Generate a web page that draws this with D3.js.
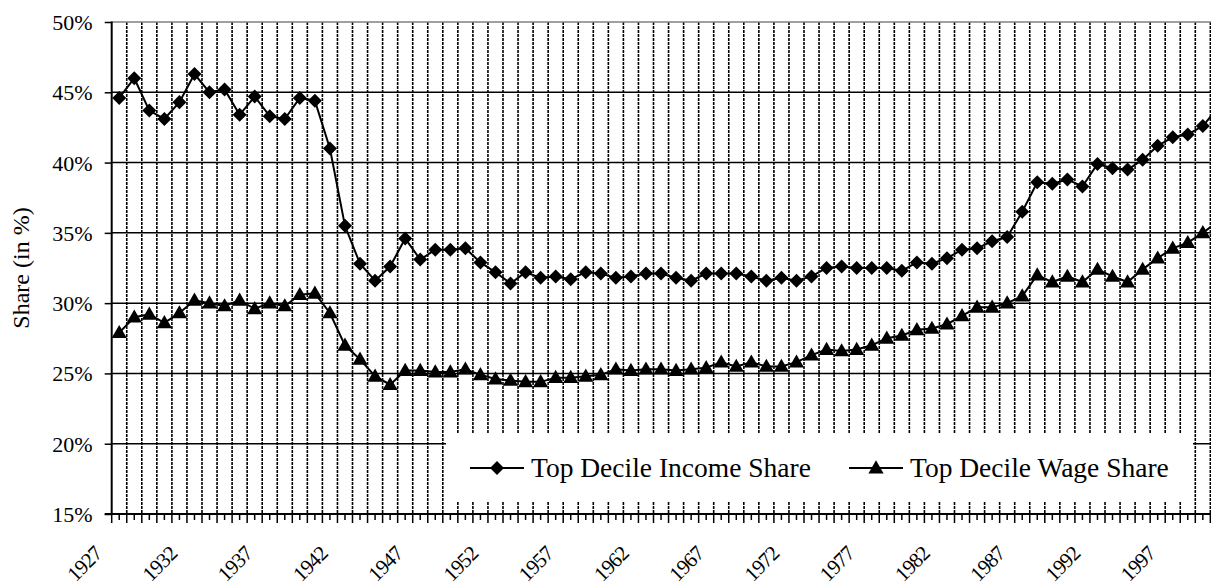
<!DOCTYPE html>
<html>
<head>
<meta charset="utf-8">
<script src="https://d3js.org/d3.v7.min.js"></script>
<style>
    html, body { margin: 0; padding: 0; background: #fff; }
    svg text { font-family: "Liberation Serif", "Times New Roman", serif; fill: #000; }
</style>
</head>
<body>
<svg id="chart" width="1211" height="586"></svg>
<script>
// years shown on the category axis (the last one is partly cut by the frame)
var years = d3.range(1927, 2001);

var incomeShare = [
    44.6, 46.0, 43.7, 43.1, 44.3, 46.3, 45.0, 45.2, 43.4, 44.7,
    43.3, 43.1, 44.6, 44.4, 41.0, 35.5, 32.8, 31.6, 32.6, 34.6,
    33.1, 33.8, 33.8, 33.9, 32.9, 32.2, 31.4, 32.2, 31.8, 31.9,
    31.7, 32.2, 32.1, 31.8, 31.9, 32.1, 32.1, 31.8, 31.6, 32.1,
    32.1, 32.1, 31.9, 31.6, 31.8, 31.6, 31.9, 32.5, 32.6, 32.5,
    32.5, 32.5, 32.3, 32.9, 32.8, 33.2, 33.8, 33.9, 34.4, 34.7,
    36.5, 38.6, 38.5, 38.8, 38.3, 39.9, 39.6, 39.5, 40.2, 41.2,
    41.8, 42.0, 42.6, 43.9
];

var wageShare = [
    27.9, 29.0, 29.2, 28.6, 29.3, 30.2, 30.0, 29.8, 30.2, 29.6,
    30.0, 29.8, 30.6, 30.7, 29.3, 27.0, 26.0, 24.8, 24.2, 25.2,
    25.2, 25.1, 25.1, 25.3, 24.9, 24.6, 24.5, 24.4, 24.4, 24.7,
    24.7, 24.8, 24.9, 25.3, 25.2, 25.3, 25.3, 25.2, 25.3, 25.4,
    25.8, 25.5, 25.8, 25.5, 25.5, 25.8, 26.3, 26.7, 26.6, 26.7,
    27.0, 27.5, 27.7, 28.1, 28.2, 28.5, 29.1, 29.7, 29.7, 30.0,
    30.5, 32.0, 31.5, 31.9, 31.5, 32.4, 31.9, 31.5, 32.4, 33.2,
    33.9, 34.3, 35.0, 35.8
];

var yTicks = [15, 20, 25, 30, 35, 40, 45, 50];
var xLabels = [1927, 1932, 1937, 1942, 1947, 1952, 1957, 1962, 1967, 1972, 1977, 1982, 1987, 1992, 1997];

var legendItems = [
    {name: 'Top Decile Income Share', marker: 'diamond'},
    {name: 'Top Decile Wage Share', marker: 'triangle'}
];

var
svg = d3.select('#chart'),
serif = '"Liberation Serif", "Times New Roman", serif',
plotLeft = 111.7,
plotTop = 22,
plotBottom = 514,
step = 15.05,
x = d3.scaleBand().domain(years).range([plotLeft, plotLeft + years.length * step]).padding(0),
y = d3.scaleLinear().domain([15, 50]).range([plotBottom, plotTop]),
cx = function (yr) { return x(yr) + x.bandwidth() / 2; },
diamond = d3.symbol().type(d3.symbolDiamond2).size(125),
triangle = d3.symbol().type(d3.symbolTriangle).size(100);

// vertical dotted gridlines at category boundaries
svg.append('g').selectAll('line')
    .data(years.slice(1))
    .enter().append('line')
    .attr('x1', function (d) { return x(d); })
    .attr('x2', function (d) { return x(d); })
    .attr('y1', plotTop)
    .attr('y2', plotBottom)
    .attr('stroke', '#000')
    .attr('stroke-width', 1.6)
    .attr('stroke-dasharray', '3,1');

// horizontal gridlines
svg.append('g').selectAll('line')
    .data(yTicks.slice(1))
    .enter().append('line')
    .attr('x1', plotLeft)
    .attr('x2', 1211)
    .attr('y1', function (d) { return y(d); })
    .attr('y2', function (d) { return y(d); })
    .attr('stroke', function (d) { return d === 50 ? '#808080' : '#000'; })
    .attr('stroke-width', function (d) { return d === 50 ? 1.6 : 1.5; });

// y axis
var yAxis = svg.append('g')
    .attr('transform', 'translate(' + plotLeft + ',0)')
    .call(d3.axisLeft(y).tickValues(yTicks).tickSize(7).tickPadding(12)
        .tickFormat(function (d) { return d + '%'; }));
yAxis.select('.domain').remove();
yAxis.selectAll('.tick line').attr('stroke', '#000').attr('stroke-width', 1.5);
yAxis.selectAll('text')
    .style('font-family', serif)
    .style('font-size', '22px')
    .attr('dy', '0.34em');
svg.append('line')
    .attr('x1', plotLeft).attr('x2', plotLeft)
    .attr('y1', plotTop - 0.5).attr('y2', plotBottom + 1)
    .attr('stroke', '#000').attr('stroke-width', 2);

// x axis line and ticks
svg.append('line')
    .attr('x1', plotLeft - 7).attr('x2', 1211)
    .attr('y1', plotBottom).attr('y2', plotBottom)
    .attr('stroke', '#000').attr('stroke-width', 2);

svg.append('g').selectAll('line')
    .data(years)
    .enter().append('line')
    .attr('x1', function (d) { return x(d); })
    .attr('x2', function (d) { return x(d); })
    .attr('y1', plotBottom)
    .attr('y2', plotBottom + 9)
    .attr('stroke', '#000').attr('stroke-width', 1.5);

svg.append('g').selectAll('line')
    .data(years)
    .enter().append('line')
    .attr('x1', cx)
    .attr('x2', cx)
    .attr('y1', plotBottom)
    .attr('y2', plotBottom + 6)
    .attr('stroke', '#000').attr('stroke-width', 1.5);

svg.append('g').selectAll('text')
    .data(xLabels)
    .enter().append('text')
    .attr('transform', function (d) { return 'translate(' + (cx(d) - 16) + ',' + 555 + ') rotate(-45)'; })
    .attr('text-anchor', 'end')
    .style('font-family', serif)
    .style('font-size', '21px')
    .attr('letter-spacing', -0.8)
    .text(function (d) { return d; });

// y axis title
svg.append('text')
    .attr('transform', 'translate(29,268) rotate(-90)')
    .attr('text-anchor', 'middle')
    .style('font-family', serif)
    .style('font-size', '24px')
    .text('Share (in %)');

// series
var line = d3.line()
    .x(function (d, i) { return cx(years[i]); })
    .y(function (d) { return y(d); });

svg.append('path')
    .datum(incomeShare)
    .attr('d', line)
    .attr('fill', 'none')
    .attr('stroke', '#000')
    .attr('stroke-width', 2);

svg.append('path')
    .datum(wageShare)
    .attr('d', line)
    .attr('fill', 'none')
    .attr('stroke', '#000')
    .attr('stroke-width', 2);

svg.append('g').selectAll('path')
    .data(incomeShare)
    .enter().append('path')
    .attr('d', diamond)
    .attr('transform', function (d, i) { return 'translate(' + cx(years[i]) + ',' + y(d) + ')'; })
    .attr('fill', '#000');

svg.append('g').selectAll('path')
    .data(wageShare)
    .enter().append('path')
    .attr('d', triangle)
    .attr('transform', function (d, i) { return 'translate(' + cx(years[i]) + ',' + (y(d) + 1) + ')'; })
    .attr('fill', '#000');

// legend
var lg = svg.append('g');
lg.append('rect')
    .attr('x', 446).attr('y', 433)
    .attr('width', 747).attr('height', 68)
    .attr('fill', '#fff');

var legendX = [470, 849];
legendItems.forEach(function (item, i) {
    var g = lg.append('g').attr('transform', 'translate(' + legendX[i] + ',468)');
    g.append('line')
        .attr('x1', 0).attr('x2', 54)
        .attr('stroke', '#000').attr('stroke-width', 2);
    g.append('path')
        .attr('d', item.marker === 'diamond' ? diamond : triangle)
        .attr('transform', 'translate(27,' + (item.marker === 'diamond' ? 0 : 1) + ')')
        .attr('fill', '#000');
    g.append('text')
        .attr('x', 61)
        .attr('y', 9)
        .style('font-family', serif)
        .style('font-size', '27.5px')
        .text(item.name);
});
</script>
</body>
</html>
